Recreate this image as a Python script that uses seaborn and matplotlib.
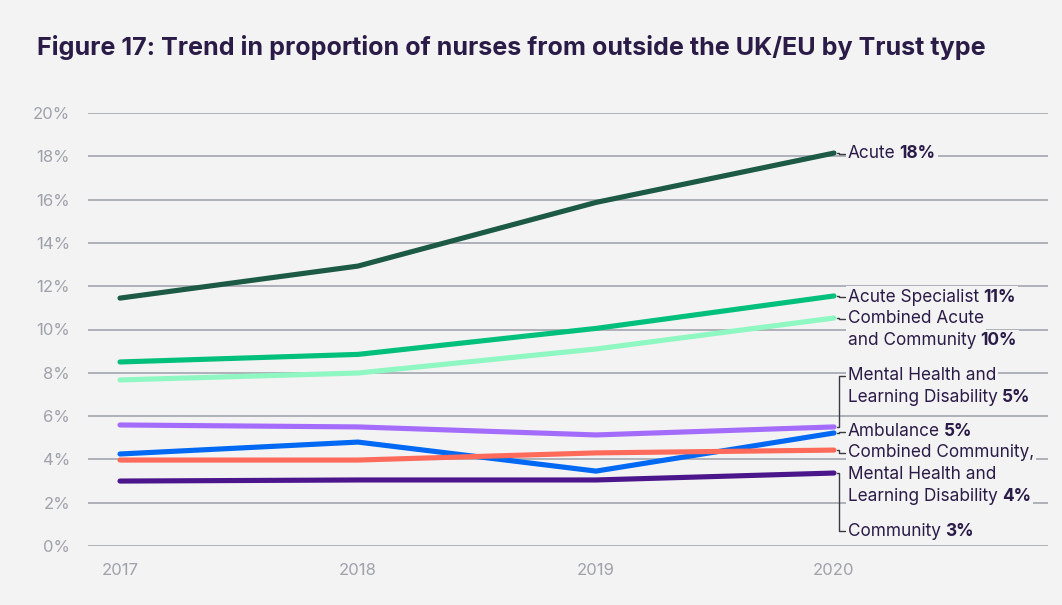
import numpy as np
import pandas as pd
import matplotlib
matplotlib.use("Agg")
import matplotlib.pyplot as plt
import seaborn as sns

# --- data ---
years = [2017, 2018, 2019, 2020]
trust_types = [
    "Acute",
    "Acute Specialist",
    "Combined Acute and Community",
    "Mental Health and Learning Disability",
    "Ambulance",
    "Combined Community, Mental Health and Learning Disability",
    "Community",
]
acute = [11.45, 12.93, 15.87, 18.15]
acute_specialist = [8.5, 8.85, 10.05, 11.55]
combined_acute = [7.67, 7.99, 9.1, 10.53]
mental_health = [5.59, 5.5, 5.13, 5.5]
ambulance = [4.25, 4.8, 3.46, 5.22]
combined_community = [3.97, 3.97, 4.3, 4.43]
community = [3.0, 3.05, 3.05, 3.37]

end_labels = ["Acute", "Acute Specialist", "Combined Acute\nand Community",
              "Mental Health and\nLearning Disability", "Ambulance",
              "Combined Community,\nMental Health and\nLearning Disability", "Community"]
end_values = ["18%", "11%", "10%", "5%", "5%", "4%", "3%"]
yticks = [0, 2, 4, 6, 8, 10, 12, 14, 16, 18, 20]

colors = ["#1c5a45", "#00c07c", "#8ef7c2", "#a46cfb", "#0069f4", "#ff6b5b", "#4b168c"]
BG = "#f3f3f3"
TEXT = "#2b1b47"
GREY = "#9fa2ab"

series = [acute, acute_specialist, combined_acute, mental_health,
          ambulance, combined_community, community]
df = pd.DataFrame({
    "year": np.tile(years, len(trust_types)),
    "value": np.concatenate(series),
    "trust": np.repeat(trust_types, len(years)),
})

sns.set_theme(style="white")
plt.rcParams["font.family"] = ["Inter", "DejaVu Sans"]

fig = plt.figure(figsize=(10.62, 6.05), dpi=100, facecolor=BG)
ax = fig.add_axes([88 / 1062, 1 - 546 / 605, (1048 - 88) / 1062, (546 - 113) / 605])
ax.set_facecolor(BG)

sns.lineplot(data=df, x="year", y="value", hue="trust", palette=colors,
             hue_order=trust_types, linewidth=3.7, legend=False, ax=ax,
             solid_capstyle="round", solid_joinstyle="round", zorder=3)

px_per_year = (834 - 120) / 3
ax.set_xlim(2017 - 32 / px_per_year, 2020 + 214 / px_per_year)
ax.set_ylim(0, 20)
ax.set_yticks(yticks)
ax.set_yticklabels([f"{t}%" for t in yticks])
ax.set_xticks(years)
ax.set_xlabel("")
ax.set_ylabel("")
ax.tick_params(axis="both", length=0, colors=GREY, labelsize=12)
ax.tick_params(axis="y", pad=13)
ax.tick_params(axis="x", pad=12)
for s in ax.spines.values():
    s.set_visible(False)
ax.grid(axis="y", color="#a9abb3", linewidth=1.3, zorder=0)
ax.grid(axis="x", visible=False)

# --- end labels ---
def y_of(px):
    return (546 - px) / (546 - 113) * 20

lab_x = 2020 + 14 / px_per_year
label_y = [y_of(154), y_of(297), y_of(319), y_of(376), y_of(432), y_of(453), y_of(531)]
line_step = 21.8 / (546 - 113) * 20

fig.canvas.draw()
renderer = fig.canvas.get_renderer()
inv = ax.transData.inverted()
for lbl, val, ytop in zip(end_labels, end_values, label_y):
    lines = lbl.split("\n")
    for i, ln in enumerate(lines):
        yy = ytop - i * line_step
        t = ax.text(lab_x, yy, ln, ha="left", va="center", fontsize=12.4, color=TEXT,
                    zorder=4, bbox=dict(facecolor=BG, edgecolor="none", pad=1.5))
        if i == len(lines) - 1:
            bb = t.get_window_extent(renderer)
            x1 = inv.transform((bb.x1 + 4, bb.y0))[0]
            ax.text(x1, yy, val, ha="left", va="center", fontsize=12.4, color=TEXT,
                    fontweight="bold", zorder=4,
                    bbox=dict(facecolor=BG, edgecolor="none", pad=1.5))

# connectors
x_end = 2020 + 3 / px_per_year
x_lab = 2020 + 11 / px_per_year
x_mid = 2020 + 5 / px_per_year
conn = dict(color="#3a3a44", linewidth=1.0, zorder=2)
for vals, yl in [(acute, label_y[0]), (acute_specialist, label_y[1]),
                 (combined_acute, label_y[2]), (ambulance, label_y[4]),
                 (combined_community, label_y[5])]:
    ax.plot([x_end, x_mid, x_mid, x_lab], [vals[-1], vals[-1], yl, yl], **conn)
ax.plot([x_end, x_mid, x_mid, x_lab], [mental_health[-1], mental_health[-1], label_y[3], label_y[3]], **conn)
ax.plot([x_end, x_mid, x_mid, x_lab], [community[-1], community[-1], label_y[6], label_y[6]], **conn)

fig.text(37 / 1062, 1 - 48 / 605,
         "Figure 17: Trend in proportion of nurses from outside the UK/EU by Trust type",
         ha="left", va="center", fontsize=18.1, fontweight="bold", color=TEXT)

fig.savefig("out.png", dpi=100, facecolor=BG)
